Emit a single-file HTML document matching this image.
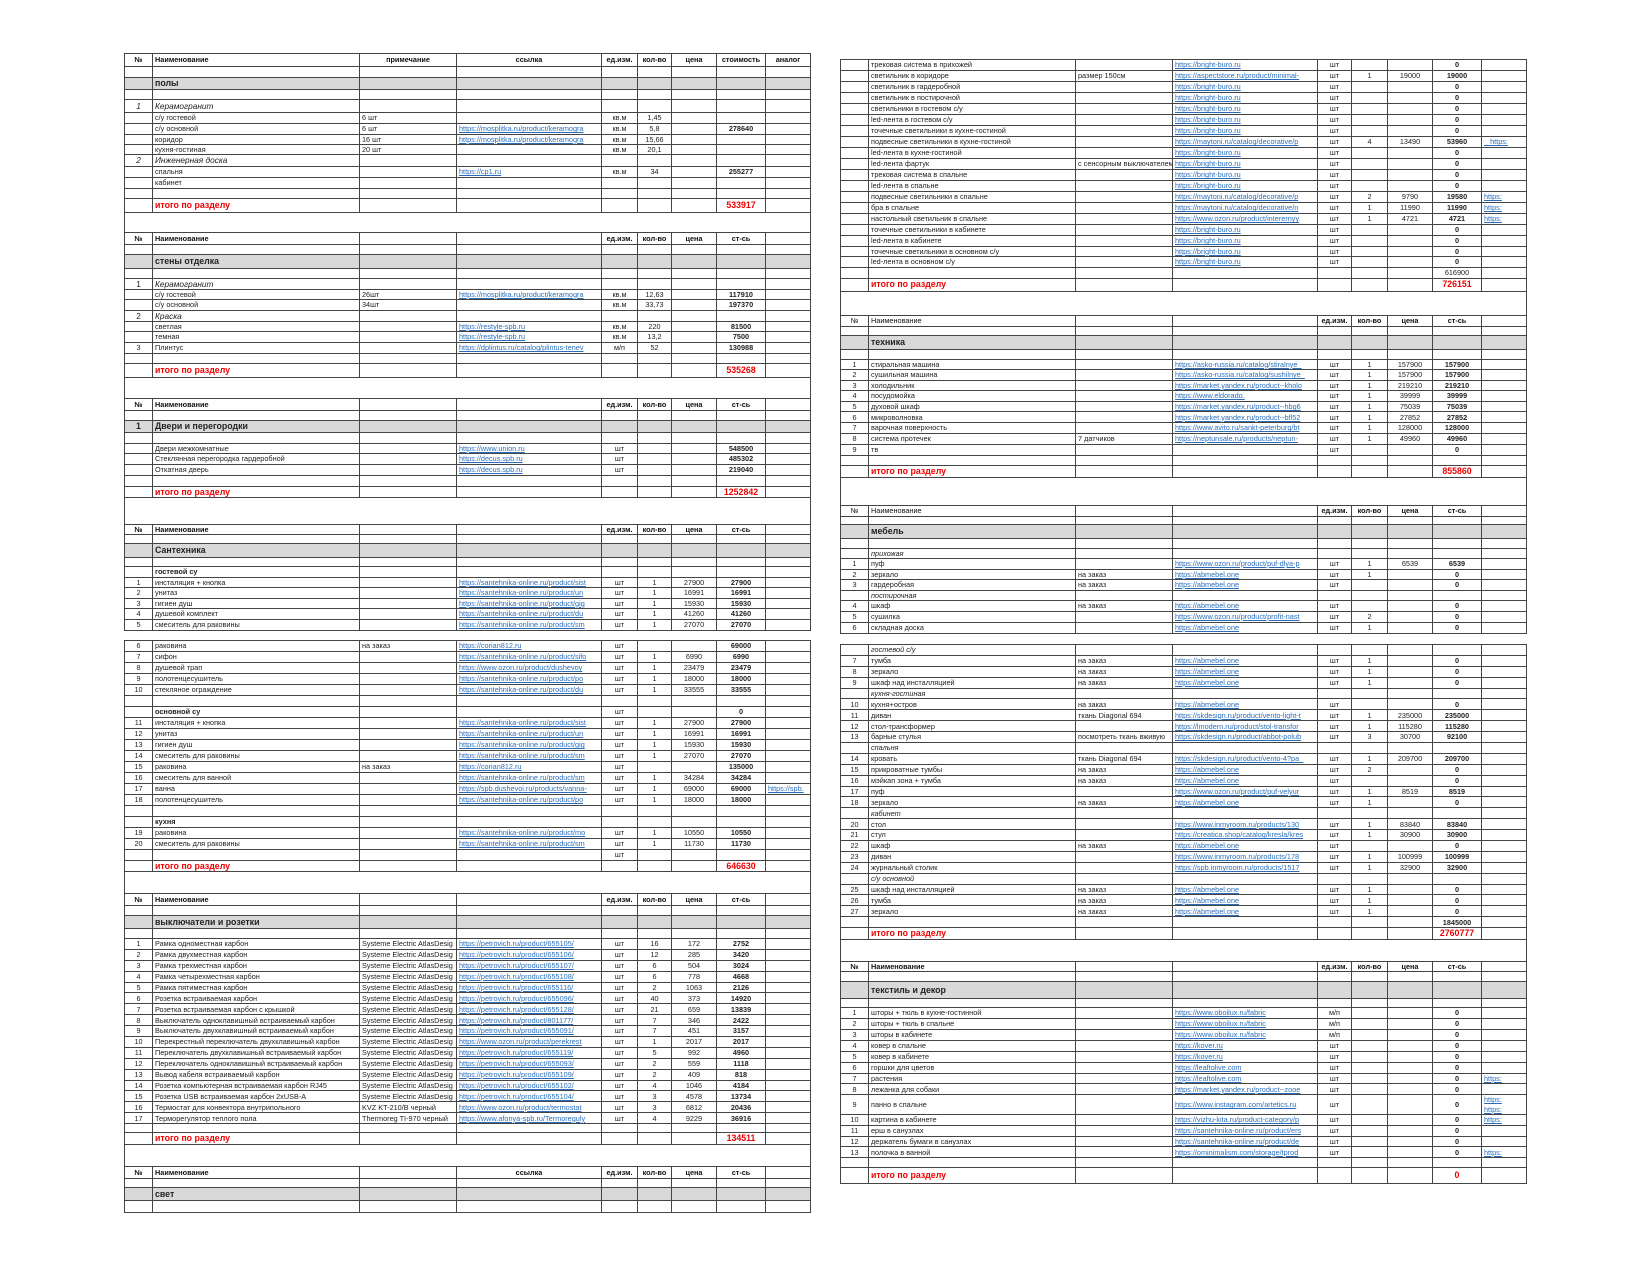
<!DOCTYPE html>
<html><head><meta charset="utf-8">
<style>
html,body{margin:0;padding:0;background:#fff;width:1650px;height:1275px;overflow:hidden;position:relative}
table{position:absolute;border-collapse:collapse;table-layout:fixed;width:686px;font-family:"Liberation Sans",Arial,sans-serif;font-size:7.3px;color:#222}
td{border:1px solid #444;padding:0 2px;white-space:nowrap;overflow:hidden;line-height:1}
td:nth-child(1),td:nth-child(n+5){text-align:center}
td:nth-child(8){font-weight:bold}
td:nth-child(4),td:nth-child(9){color:#2a6ebb;text-decoration:underline;text-align:left}
tr.h td{font-weight:bold;color:#111;text-decoration:none}
tr.h td:nth-child(4),tr.h td:nth-child(9){color:#111;text-decoration:none;text-align:center}
tr.g td{background:#d9d9d9}
tr.g td:nth-child(2){font-weight:bold;font-size:8.8px}
tr.g td:nth-child(1){font-weight:bold;font-size:8.8px}
tr.r td{color:#e00;font-weight:bold;font-size:8.8px}
tr.i td:nth-child(2),tr.i td:nth-child(1){font-style:italic;font-size:8.3px}
tr.sub td:nth-child(2){font-style:italic}
tr.bb td:nth-child(2){font-weight:bold}
tr.gap td{border-top:none;border-bottom:none}
</style></head><body>

<!-- LEFT BLOCK A -->
<table style="left:124px;top:53px">
<colgroup><col style="width:28px"><col style="width:207px"><col style="width:97px"><col style="width:145px"><col style="width:36px"><col style="width:34px"><col style="width:45px"><col style="width:49px"><col style="width:45px"></colgroup>
<tr class="h" style="height:13px"><td>№</td><td>Наименование</td><td style="text-align:center">примечание</td><td>ссылка</td><td>ед.изм.</td><td>кол-во</td><td>цена</td><td>стоимость</td><td>аналог</td></tr>
<tr style="height:11px"><td></td><td></td><td></td><td></td><td></td><td></td><td></td><td></td><td></td></tr>
<tr class="g" style="height:12px"><td></td><td>полы</td><td></td><td></td><td></td><td></td><td></td><td></td><td></td></tr>
<tr style="height:10px"><td></td><td></td><td></td><td></td><td></td><td></td><td></td><td></td><td></td></tr>
<tr class="i" style="height:13px"><td>1</td><td>Керамогранит</td><td></td><td></td><td></td><td></td><td></td><td></td><td></td></tr>
<tr style="height:11px"><td></td><td>с/у гостевой</td><td>6 шт</td><td></td><td>кв.м</td><td>1,45</td><td></td><td></td><td></td></tr>
<tr style="height:11px"><td></td><td>с/у основной</td><td>6 шт</td><td>https://mosplitka.ru/product/keramogra</td><td>кв.м</td><td>5,8</td><td></td><td>278640</td><td></td></tr>
<tr style="height:10px"><td></td><td>коридор</td><td>16 шт</td><td>https://mosplitka.ru/product/keramogra</td><td>кв.м</td><td>15,66</td><td></td><td></td><td></td></tr>
<tr style="height:10px"><td></td><td>кухня-гостиная</td><td>20 шт</td><td></td><td>кв.м</td><td>20,1</td><td></td><td></td><td></td></tr>
<tr class="i" style="height:12px"><td>2</td><td>Инженерная доска</td><td></td><td></td><td></td><td></td><td></td><td></td><td></td></tr>
<tr style="height:11px"><td></td><td>спальня</td><td></td><td>https://cp1.ru</td><td>кв.м</td><td>34</td><td></td><td>255277</td><td></td></tr>
<tr style="height:11px"><td></td><td>кабинет</td><td></td><td></td><td></td><td></td><td></td><td></td><td></td></tr>
<tr style="height:10px"><td></td><td></td><td></td><td></td><td></td><td></td><td></td><td></td><td></td></tr>
<tr class="r" style="height:14px"><td></td><td>итого по разделу</td><td></td><td></td><td></td><td></td><td></td><td>533917</td><td></td></tr>
<tr class="gap" style="height:20px"><td colspan="9"></td></tr>
<tr class="h" style="height:12px"><td>№</td><td>Наименование</td><td></td><td></td><td>ед.изм.</td><td>кол-во</td><td>цена</td><td>ст-сь</td><td></td></tr>
<tr style="height:10px"><td></td><td></td><td></td><td></td><td></td><td></td><td></td><td></td><td></td></tr>
<tr class="g" style="height:14px"><td></td><td>стены отделка</td><td></td><td></td><td></td><td></td><td></td><td></td><td></td></tr>
<tr style="height:10px"><td></td><td></td><td></td><td></td><td></td><td></td><td></td><td></td><td></td></tr>
<tr class="i" style="height:11px"><td style="font-style:normal">1</td><td>Керамогранит</td><td></td><td></td><td></td><td></td><td></td><td></td><td></td></tr>
<tr style="height:10px"><td></td><td>с/у гостевой</td><td>26шт</td><td>https://mosplitka.ru/product/keramogra</td><td>кв.м</td><td>12,63</td><td></td><td>117910</td><td></td></tr>
<tr style="height:11px"><td></td><td>с/у основной</td><td>34шт</td><td></td><td>кв.м</td><td>33,73</td><td></td><td>197370</td><td></td></tr>
<tr class="i" style="height:11px"><td style="font-style:normal">2</td><td>Краска</td><td></td><td></td><td></td><td></td><td></td><td></td><td></td></tr>
<tr style="height:10px"><td></td><td>светлая</td><td></td><td>https://restyle-spb.ru</td><td>кв.м</td><td>220</td><td></td><td>81500</td><td></td></tr>
<tr style="height:11px"><td></td><td>темная</td><td></td><td>https://restyle-spb.ru</td><td>кв.м</td><td>13,2</td><td></td><td>7500</td><td></td></tr>
<tr style="height:11px"><td>3</td><td>Плинтус</td><td></td><td>https://dplintus.ru/catalog/plintus-tenev</td><td>м/п</td><td>52</td><td></td><td>130988</td><td></td></tr>
<tr style="height:10px"><td></td><td></td><td></td><td></td><td></td><td></td><td></td><td></td><td></td></tr>
<tr class="r" style="height:14px"><td></td><td>итого по разделу</td><td></td><td></td><td></td><td></td><td></td><td>535268</td><td></td></tr>
<tr class="gap" style="height:21px"><td colspan="9"></td></tr>
<tr class="h" style="height:12px"><td>№</td><td>Наименование</td><td></td><td></td><td>ед.изм.</td><td>кол-во</td><td>цена</td><td>ст-сь</td><td></td></tr>
<tr style="height:10px"><td></td><td></td><td></td><td></td><td></td><td></td><td></td><td></td><td></td></tr>
<tr class="g" style="height:12px"><td>1</td><td>Двери и перегородки</td><td></td><td></td><td></td><td></td><td></td><td></td><td></td></tr>
<tr style="height:11px"><td></td><td></td><td></td><td></td><td></td><td></td><td></td><td></td><td></td></tr>
<tr style="height:10px"><td></td><td>Двери межкомнатные</td><td></td><td>https://www.union.ru</td><td>шт</td><td></td><td></td><td>548500</td><td></td></tr>
<tr style="height:11px"><td></td><td>Стеклянная перегородка гардеробной</td><td></td><td>https://decus.spb.ru</td><td>шт</td><td></td><td></td><td>485302</td><td></td></tr>
<tr style="height:11px"><td></td><td>Откатная дверь</td><td></td><td>https://decus.spb.ru</td><td>шт</td><td></td><td></td><td>219040</td><td></td></tr>
<tr style="height:11px"><td></td><td></td><td></td><td></td><td></td><td></td><td></td><td></td><td></td></tr>
<tr class="r" style="height:11px"><td></td><td>итого по разделу</td><td></td><td></td><td></td><td></td><td></td><td>1252842</td><td></td></tr>
<tr class="gap" style="height:27px"><td colspan="9"></td></tr>
<tr class="h" style="height:10px"><td>№</td><td>Наименование</td><td></td><td></td><td>ед.изм.</td><td>кол-во</td><td>цена</td><td>ст-сь</td><td></td></tr>
<tr style="height:9px"><td></td><td></td><td></td><td></td><td></td><td></td><td></td><td></td><td></td></tr>
<tr class="g" style="height:14px"><td></td><td>Сантехника</td><td></td><td></td><td></td><td></td><td></td><td></td><td></td></tr>
<tr style="height:9px"><td></td><td></td><td></td><td></td><td></td><td></td><td></td><td></td><td></td></tr>
<tr class="bb" style="height:11px"><td></td><td>гостевой су</td><td></td><td></td><td></td><td></td><td></td><td></td><td></td></tr>
<tr style="height:10px"><td>1</td><td>инсталяция + кнопка</td><td></td><td>https://santehnika-online.ru/product/sist</td><td>шт</td><td>1</td><td>27900</td><td>27900</td><td></td></tr>
<tr style="height:11px"><td>2</td><td>унитаз</td><td></td><td>https://santehnika-online.ru/product/un</td><td>шт</td><td>1</td><td>16991</td><td>16991</td><td></td></tr>
<tr style="height:10px"><td>3</td><td>гигиен душ</td><td></td><td>https://santehnika-online.ru/product/gig</td><td>шт</td><td>1</td><td>15930</td><td>15930</td><td></td></tr>
<tr style="height:11px"><td>4</td><td>душевой комплект</td><td></td><td>https://santehnika-online.ru/product/du</td><td>шт</td><td>1</td><td>41260</td><td>41260</td><td></td></tr>
<tr style="height:11px"><td>5</td><td>смеситель для раковины</td><td></td><td>https://santehnika-online.ru/product/sm</td><td>шт</td><td>1</td><td>27070</td><td>27070</td><td></td></tr>
</table>

<!-- LEFT BLOCK B -->
<table style="left:124px;top:640px">
<colgroup><col style="width:28px"><col style="width:207px"><col style="width:97px"><col style="width:145px"><col style="width:36px"><col style="width:34px"><col style="width:45px"><col style="width:49px"><col style="width:45px"></colgroup>
<tr style="height:11px"><td>6</td><td>раковина</td><td>на заказ</td><td>https://corian812.ru</td><td>шт</td><td></td><td></td><td>69000</td><td></td></tr>
<tr style="height:11px"><td>7</td><td>сифон</td><td></td><td>https://santehnika-online.ru/product/sifo</td><td>шт</td><td>1</td><td>6990</td><td>6990</td><td></td></tr>
<tr style="height:11px"><td>8</td><td>душевой трап</td><td></td><td>https://www.ozon.ru/product/dushevoy</td><td>шт</td><td>1</td><td>23479</td><td>23479</td><td></td></tr>
<tr style="height:11px"><td>9</td><td>полотенцесушитель</td><td></td><td>https://santehnika-online.ru/product/po</td><td>шт</td><td>1</td><td>18000</td><td>18000</td><td></td></tr>
<tr style="height:11px"><td>10</td><td>стекляное ограждение</td><td></td><td>https://santehnika-online.ru/product/du</td><td>шт</td><td>1</td><td>33555</td><td>33555</td><td></td></tr>
<tr style="height:11px"><td></td><td></td><td></td><td></td><td></td><td></td><td></td><td></td><td></td></tr>
<tr class="bb" style="height:11px"><td></td><td>основной су</td><td></td><td></td><td>шт</td><td></td><td></td><td>0</td><td></td></tr>
<tr style="height:11px"><td>11</td><td>инсталяция + кнопка</td><td></td><td>https://santehnika-online.ru/product/sist</td><td>шт</td><td>1</td><td>27900</td><td>27900</td><td></td></tr>
<tr style="height:11px"><td>12</td><td>унитаз</td><td></td><td>https://santehnika-online.ru/product/un</td><td>шт</td><td>1</td><td>16991</td><td>16991</td><td></td></tr>
<tr style="height:11px"><td>13</td><td>гигиен душ</td><td></td><td>https://santehnika-online.ru/product/gig</td><td>шт</td><td>1</td><td>15930</td><td>15930</td><td></td></tr>
<tr style="height:11px"><td>14</td><td>смеситель для раковины</td><td></td><td>https://santehnika-online.ru/product/sm</td><td>шт</td><td>1</td><td>27070</td><td>27070</td><td></td></tr>
<tr style="height:11px"><td>15</td><td>раковина</td><td>на заказ</td><td>https://corian812.ru</td><td>шт</td><td></td><td></td><td>135000</td><td></td></tr>
<tr style="height:11px"><td>16</td><td>смеситель для ванной</td><td></td><td>https://santehnika-online.ru/product/sm</td><td>шт</td><td>1</td><td>34284</td><td>34284</td><td></td></tr>
<tr style="height:11px"><td>17</td><td>ванна</td><td></td><td>https://spb.dushevoi.ru/products/vanna-</td><td>шт</td><td>1</td><td>69000</td><td>69000</td><td>https://spb.</td></tr>
<tr style="height:11px"><td>18</td><td>полотенцесушитель</td><td></td><td>https://santehnika-online.ru/product/po</td><td>шт</td><td>1</td><td>18000</td><td>18000</td><td></td></tr>
<tr style="height:11px"><td></td><td></td><td></td><td></td><td></td><td></td><td></td><td></td><td></td></tr>
<tr class="bb" style="height:11px"><td></td><td>кухня</td><td></td><td></td><td></td><td></td><td></td><td></td><td></td></tr>
<tr style="height:11px"><td>19</td><td>раковина</td><td></td><td>https://santehnika-online.ru/product/mo</td><td>шт</td><td>1</td><td>10550</td><td>10550</td><td></td></tr>
<tr style="height:11px"><td>20</td><td>смеситель для раковины</td><td></td><td>https://santehnika-online.ru/product/sm</td><td>шт</td><td>1</td><td>11730</td><td>11730</td><td></td></tr>
<tr style="height:11px"><td></td><td></td><td></td><td></td><td>шт</td><td></td><td></td><td></td><td></td></tr>
<tr class="r" style="height:11px"><td></td><td>итого по разделу</td><td></td><td></td><td></td><td></td><td></td><td>646630</td><td></td></tr>
<tr class="gap" style="height:22px"><td colspan="9"></td></tr>
<tr class="h" style="height:12px"><td>№</td><td>Наименование</td><td></td><td></td><td>ед.изм.</td><td>кол-во</td><td>цена</td><td>ст-сь</td><td></td></tr>
<tr style="height:10px"><td></td><td></td><td></td><td></td><td></td><td></td><td></td><td></td><td></td></tr>
<tr class="g" style="height:13px"><td></td><td>выключатели и розетки</td><td></td><td></td><td></td><td></td><td></td><td></td><td></td></tr>
<tr style="height:10px"><td></td><td></td><td></td><td></td><td></td><td></td><td></td><td></td><td></td></tr>
<tr style="height:10.9px"><td>1</td><td>Рамка одноместная карбон</td><td>Systeme Electric AtlasDesig</td><td>https://petrovich.ru/product/655105/</td><td>шт</td><td>16</td><td>172</td><td>2752</td><td></td></tr>
<tr style="height:10.9px"><td>2</td><td>Рамка двухместная карбон</td><td>Systeme Electric AtlasDesig</td><td>https://petrovich.ru/product/655106/</td><td>шт</td><td>12</td><td>285</td><td>3420</td><td></td></tr>
<tr style="height:10.9px"><td>3</td><td>Рамка трехместная карбон</td><td>Systeme Electric AtlasDesig</td><td>https://petrovich.ru/product/655107/</td><td>шт</td><td>6</td><td>504</td><td>3024</td><td></td></tr>
<tr style="height:10.9px"><td>4</td><td>Рамка четырехместная карбон</td><td>Systeme Electric AtlasDesig</td><td>https://petrovich.ru/product/655108/</td><td>шт</td><td>6</td><td>778</td><td>4668</td><td></td></tr>
<tr style="height:10.9px"><td>5</td><td>Рамка пятиместная карбон</td><td>Systeme Electric AtlasDesig</td><td>https://petrovich.ru/product/655116/</td><td>шт</td><td>2</td><td>1063</td><td>2126</td><td></td></tr>
<tr style="height:10.9px"><td>6</td><td>Розетка встраиваемая карбон</td><td>Systeme Electric AtlasDesig</td><td>https://petrovich.ru/product/655096/</td><td>шт</td><td>40</td><td>373</td><td>14920</td><td></td></tr>
<tr style="height:10.9px"><td>7</td><td>Розетка встраиваемая карбон с крышкой</td><td>Systeme Electric AtlasDesig</td><td>https://petrovich.ru/product/655128/</td><td>шт</td><td>21</td><td>659</td><td>13839</td><td></td></tr>
<tr style="height:10.9px"><td>8</td><td>Выключатель одноклавишный встраиваемый карбон</td><td>Systeme Electric AtlasDesig</td><td>https://petrovich.ru/product/801177/</td><td>шт</td><td>7</td><td>346</td><td>2422</td><td></td></tr>
<tr style="height:10.9px"><td>9</td><td>Выключатель двухклавишный встраиваемый карбон</td><td>Systeme Electric AtlasDesig</td><td>https://petrovich.ru/product/655091/</td><td>шт</td><td>7</td><td>451</td><td>3157</td><td></td></tr>
<tr style="height:10.9px"><td>10</td><td>Перекрестный переключатель двухклавишный карбон</td><td>Systeme Electric AtlasDesig</td><td>https://www.ozon.ru/product/perekrest</td><td>шт</td><td>1</td><td>2017</td><td>2017</td><td></td></tr>
<tr style="height:10.9px"><td>11</td><td>Переключатель двухклавишный встраиваемый карбон</td><td>Systeme Electric AtlasDesig</td><td>https://petrovich.ru/product/655119/</td><td>шт</td><td>5</td><td>992</td><td>4960</td><td></td></tr>
<tr style="height:10.9px"><td>12</td><td>Переключатель одноклавишный встраиваемый карбон</td><td>Systeme Electric AtlasDesig</td><td>https://petrovich.ru/product/655093/</td><td>шт</td><td>2</td><td>559</td><td>1118</td><td></td></tr>
<tr style="height:10.9px"><td>13</td><td>Вывод кабеля встраиваемый карбон</td><td>Systeme Electric AtlasDesig</td><td>https://petrovich.ru/product/655109/</td><td>шт</td><td>2</td><td>409</td><td>818</td><td></td></tr>
<tr style="height:10.9px"><td>14</td><td>Розетка компьютерная встраиваемая карбон RJ45</td><td>Systeme Electric AtlasDesig</td><td>https://petrovich.ru/product/655102/</td><td>шт</td><td>4</td><td>1046</td><td>4184</td><td></td></tr>
<tr style="height:10.9px"><td>15</td><td>Розетка USB встраиваемая карбон 2xUSB-A</td><td>Systeme Electric AtlasDesig</td><td>https://petrovich.ru/product/655104/</td><td>шт</td><td>3</td><td>4578</td><td>13734</td><td></td></tr>
<tr style="height:10.9px"><td>16</td><td>Термостат для конвектора внутрипольного</td><td>KVZ KT-210/B черный</td><td>https://www.ozon.ru/product/termostat</td><td>шт</td><td>3</td><td>6812</td><td>20436</td><td></td></tr>
<tr style="height:10.9px"><td>17</td><td>Терморегулятор теплого пола</td><td>Thermoreg TI-970 черный</td><td>https://www.afonya-spb.ru/Termoreguly</td><td>шт</td><td>4</td><td>9229</td><td>36916</td><td></td></tr>
<tr style="height:9px"><td></td><td></td><td></td><td></td><td></td><td></td><td></td><td></td><td></td></tr>
<tr class="r" style="height:12px"><td></td><td>итого по разделу</td><td></td><td></td><td></td><td></td><td></td><td>134511</td><td></td></tr>
<tr class="gap" style="height:22px"><td colspan="9"></td></tr>
<tr class="h" style="height:12px"><td>№</td><td>Наименование</td><td></td><td>ссылка</td><td>ед.изм.</td><td>кол-во</td><td>цена</td><td>ст-сь</td><td></td></tr>
<tr style="height:9px"><td></td><td></td><td></td><td></td><td></td><td></td><td></td><td></td><td></td></tr>
<tr class="g" style="height:13px"><td></td><td>свет</td><td></td><td></td><td></td><td></td><td></td><td></td><td></td></tr>
<tr style="height:12px"><td></td><td></td><td></td><td></td><td></td><td></td><td></td><td></td><td></td></tr>
</table>

<!-- RIGHT BLOCK C -->
<table style="left:840px;top:59px">
<colgroup><col style="width:28px"><col style="width:207px"><col style="width:97px"><col style="width:145px"><col style="width:34px"><col style="width:36px"><col style="width:45px"><col style="width:49px"><col style="width:45px"></colgroup>
<tr style="height:11px"><td></td><td>трековая система в прихожей</td><td></td><td>https://bright-buro.ru</td><td>шт</td><td></td><td></td><td>0</td><td></td></tr>
<tr style="height:11px"><td></td><td>светильник в коридоре</td><td>размер 150см</td><td>https://aspectstore.ru/product/minimal-</td><td>шт</td><td>1</td><td>19000</td><td>19000</td><td></td></tr>
<tr style="height:11px"><td></td><td>светильник в гардеробной</td><td></td><td>https://bright-buro.ru</td><td>шт</td><td></td><td></td><td>0</td><td></td></tr>
<tr style="height:11px"><td></td><td>светильник в постирочной</td><td></td><td>https://bright-buro.ru</td><td>шт</td><td></td><td></td><td>0</td><td></td></tr>
<tr style="height:11px"><td></td><td>светильники в гостевом с/у</td><td></td><td>https://bright-buro.ru</td><td>шт</td><td></td><td></td><td>0</td><td></td></tr>
<tr style="height:11px"><td></td><td>led-лента в гостевом с/у</td><td></td><td>https://bright-buro.ru</td><td>шт</td><td></td><td></td><td>0</td><td></td></tr>
<tr style="height:11px"><td></td><td>точечные светильники в кухне-гостиной</td><td></td><td>https://bright-buro.ru</td><td>шт</td><td></td><td></td><td>0</td><td></td></tr>
<tr style="height:11px"><td></td><td>подвесные светильники в кухне-гостиной</td><td></td><td>https://maytoni.ru/catalog/decorative/p</td><td>шт</td><td>4</td><td>13490</td><td>53960</td><td>&nbsp;&nbsp;&nbsp;https:</td></tr>
<tr style="height:11px"><td></td><td>led-лента в кухне-гостиной</td><td></td><td>https://bright-buro.ru</td><td>шт</td><td></td><td></td><td>0</td><td></td></tr>
<tr style="height:11px"><td></td><td>led-лента фартук</td><td>с сенсорным выключателем</td><td>https://bright-buro.ru</td><td>шт</td><td></td><td></td><td>0</td><td></td></tr>
<tr style="height:11px"><td></td><td>трековая система в спальне</td><td></td><td>https://bright-buro.ru</td><td>шт</td><td></td><td></td><td>0</td><td></td></tr>
<tr style="height:11px"><td></td><td>led-лента в спальне</td><td></td><td>https://bright-buro.ru</td><td>шт</td><td></td><td></td><td>0</td><td></td></tr>
<tr style="height:11px"><td></td><td>подвесные светильники в спальне</td><td></td><td>https://maytoni.ru/catalog/decorative/p</td><td>шт</td><td>2</td><td>9790</td><td>19580</td><td>https:</td></tr>
<tr style="height:11px"><td></td><td>бра в спальне</td><td></td><td>https://maytoni.ru/catalog/decorative/n</td><td>шт</td><td>1</td><td>11990</td><td>11990</td><td>https:</td></tr>
<tr style="height:11px"><td></td><td>настольный светильник в спальне</td><td></td><td>https://www.ozon.ru/product/interernyy</td><td>шт</td><td>1</td><td>4721</td><td>4721</td><td>https:</td></tr>
<tr style="height:11px"><td></td><td>точечные светильники в кабинете</td><td></td><td>https://bright-buro.ru</td><td>шт</td><td></td><td></td><td>0</td><td></td></tr>
<tr style="height:10.5px"><td></td><td>led-лента в кабинете</td><td></td><td>https://bright-buro.ru</td><td>шт</td><td></td><td></td><td>0</td><td></td></tr>
<tr style="height:10.5px"><td></td><td>точечные светильники в основном с/у</td><td></td><td>https://bright-buro.ru</td><td>шт</td><td></td><td></td><td>0</td><td></td></tr>
<tr style="height:10.5px"><td></td><td>led-лента в основном с/у</td><td></td><td>https://bright-buro.ru</td><td>шт</td><td></td><td></td><td>0</td><td></td></tr>
<tr style="height:11px"><td></td><td></td><td></td><td></td><td></td><td></td><td></td><td style="font-weight:normal">616900</td><td></td></tr>
<tr class="r" style="height:13px"><td></td><td>итого по разделу</td><td></td><td></td><td></td><td></td><td></td><td>726151</td><td></td></tr>
<tr class="gap" style="height:24px"><td colspan="9"></td></tr>
<tr class="h" style="height:11px"><td style="font-weight:normal">№</td><td style="font-weight:normal">Наименование</td><td></td><td></td><td>ед.изм.</td><td>кол-во</td><td>цена</td><td>ст-сь</td><td></td></tr>
<tr style="height:9px"><td></td><td></td><td></td><td></td><td></td><td></td><td></td><td></td><td></td></tr>
<tr class="g" style="height:14px"><td></td><td>техника</td><td></td><td></td><td></td><td></td><td></td><td></td><td></td></tr>
<tr style="height:10px"><td></td><td></td><td></td><td></td><td></td><td></td><td></td><td></td><td></td></tr>
<tr style="height:10.6px"><td>1</td><td>стиральная машина</td><td></td><td>https://asko-russia.ru/catalog/stiralnye_</td><td>шт</td><td>1</td><td>157900</td><td>157900</td><td></td></tr>
<tr style="height:10.6px"><td>2</td><td>сушильная машина</td><td></td><td>https://asko-russia.ru/catalog/sushilnye_</td><td>шт</td><td>1</td><td>157900</td><td>157900</td><td></td></tr>
<tr style="height:10.6px"><td>3</td><td>холодильник</td><td></td><td>https://market.yandex.ru/product--kholo</td><td>шт</td><td>1</td><td>219210</td><td>219210</td><td></td></tr>
<tr style="height:10.6px"><td>4</td><td>посудомойка</td><td></td><td>https://www.eldorado.</td><td>шт</td><td>1</td><td>39999</td><td>39999</td><td></td></tr>
<tr style="height:10.6px"><td>5</td><td>духовой шкаф</td><td></td><td>https://market.yandex.ru/product--hbg6</td><td>шт</td><td>1</td><td>75039</td><td>75039</td><td></td></tr>
<tr style="height:10.6px"><td>6</td><td>микроволновка</td><td></td><td>https://market.yandex.ru/product--bfl52</td><td>шт</td><td>1</td><td>27852</td><td>27852</td><td></td></tr>
<tr style="height:10.6px"><td>7</td><td>варочная поверхность</td><td></td><td>https://www.avito.ru/sankt-peterburg/bt</td><td>шт</td><td>1</td><td>128000</td><td>128000</td><td></td></tr>
<tr style="height:11px"><td>8</td><td>система протечек</td><td>7 датчиков</td><td>https://neptunsale.ru/products/neptun-</td><td>шт</td><td>1</td><td>49960</td><td>49960</td><td></td></tr>
<tr style="height:11px"><td>9</td><td>тв</td><td></td><td></td><td>шт</td><td></td><td></td><td>0</td><td></td></tr>
<tr style="height:10px"><td></td><td></td><td></td><td></td><td></td><td></td><td></td><td></td><td></td></tr>
<tr class="r" style="height:12px"><td></td><td>итого по разделу</td><td></td><td></td><td></td><td></td><td></td><td>855860</td><td></td></tr>
<tr class="gap" style="height:28px"><td colspan="9"></td></tr>
<tr class="h" style="height:11px"><td style="font-weight:normal">№</td><td style="font-weight:normal">Наименование</td><td></td><td></td><td>ед.изм.</td><td>кол-во</td><td>цена</td><td>ст-сь</td><td></td></tr>
<tr style="height:8px"><td></td><td></td><td></td><td></td><td></td><td></td><td></td><td></td><td></td></tr>
<tr class="g" style="height:14px"><td></td><td>мебель</td><td></td><td></td><td></td><td></td><td></td><td></td><td></td></tr>
<tr style="height:10px"><td></td><td></td><td></td><td></td><td></td><td></td><td></td><td></td><td></td></tr>
<tr class="sub" style="height:10px"><td></td><td>прихожая</td><td></td><td></td><td></td><td></td><td></td><td></td><td></td></tr>
<tr style="height:11px"><td>1</td><td>пуф</td><td></td><td>https://www.ozon.ru/product/puf-dlya-p</td><td>шт</td><td>1</td><td>6539</td><td>6539</td><td></td></tr>
<tr style="height:10px"><td>2</td><td>зеркало</td><td>на заказ</td><td>https://abmebel.one</td><td>шт</td><td>1</td><td></td><td>0</td><td></td></tr>
<tr style="height:11px"><td>3</td><td>гардеробная</td><td>на заказ</td><td>https://abmebel.one</td><td>шт</td><td></td><td></td><td>0</td><td></td></tr>
<tr class="sub" style="height:10px"><td></td><td>постирочная</td><td></td><td></td><td></td><td></td><td></td><td></td><td></td></tr>
<tr style="height:11px"><td>4</td><td>шкаф</td><td>на заказ</td><td>https://abmebel.one</td><td>шт</td><td></td><td></td><td>0</td><td></td></tr>
<tr style="height:11px"><td>5</td><td>сушилка</td><td></td><td>https://www.ozon.ru/product/profit-nast</td><td>шт</td><td>2</td><td></td><td>0</td><td></td></tr>
<tr style="height:11px"><td>6</td><td>складная доска</td><td></td><td>https://abmebel.one</td><td>шт</td><td>1</td><td></td><td>0</td><td></td></tr>
</table>

<!-- RIGHT BLOCK D -->
<table style="left:840px;top:644px">
<colgroup><col style="width:28px"><col style="width:207px"><col style="width:97px"><col style="width:145px"><col style="width:34px"><col style="width:36px"><col style="width:45px"><col style="width:49px"><col style="width:45px"></colgroup>
<tr class="sub" style="height:10.9px"><td></td><td>гостевой с/у</td><td></td><td></td><td></td><td></td><td></td><td></td><td></td></tr>
<tr style="height:10.9px"><td>7</td><td>тумба</td><td>на заказ</td><td>https://abmebel.one</td><td>шт</td><td>1</td><td></td><td>0</td><td></td></tr>
<tr style="height:10.9px"><td>8</td><td>зеркало</td><td>на заказ</td><td>https://abmebel.one</td><td>шт</td><td>1</td><td></td><td>0</td><td></td></tr>
<tr style="height:10.9px"><td>9</td><td>шкаф над инсталляцией</td><td>на заказ</td><td>https://abmebel.one</td><td>шт</td><td>1</td><td></td><td>0</td><td></td></tr>
<tr class="sub" style="height:10.9px"><td></td><td>кухня-гостиная</td><td></td><td></td><td></td><td></td><td></td><td></td><td></td></tr>
<tr style="height:10.9px"><td>10</td><td>кухня+остров</td><td>на заказ</td><td>https://abmebel.one</td><td>шт</td><td></td><td></td><td>0</td><td></td></tr>
<tr style="height:10.9px"><td>11</td><td>диван</td><td>ткань Diagonal 694</td><td>https://skdesign.ru/product/vento-light-t</td><td>шт</td><td>1</td><td>235000</td><td>235000</td><td></td></tr>
<tr style="height:10.9px"><td>12</td><td>стол-трансформер</td><td></td><td>https://lmodern.ru/product/stol-transfor</td><td>шт</td><td>1</td><td>115280</td><td>115280</td><td></td></tr>
<tr style="height:10.9px"><td>13</td><td>барные стулья</td><td>посмотреть ткань вживую</td><td>https://skdesign.ru/product/abbot-polub</td><td>шт</td><td>3</td><td>30700</td><td>92100</td><td></td></tr>
<tr class="sub" style="height:10.9px"><td></td><td>спальня</td><td></td><td></td><td></td><td></td><td></td><td></td><td></td></tr>
<tr style="height:10.9px"><td>14</td><td>кровать</td><td>ткань Diagonal 694</td><td>https://skdesign.ru/product/vento-4?pa_</td><td>шт</td><td>1</td><td>209700</td><td>209700</td><td></td></tr>
<tr style="height:10.9px"><td>15</td><td>прикроватные тумбы</td><td>на заказ</td><td>https://abmebel.one</td><td>шт</td><td>2</td><td></td><td>0</td><td></td></tr>
<tr style="height:10.9px"><td>16</td><td>мэйкап зона + тумба</td><td>на заказ</td><td>https://abmebel.one</td><td>шт</td><td></td><td></td><td>0</td><td></td></tr>
<tr style="height:10.9px"><td>17</td><td>пуф</td><td></td><td>https://www.ozon.ru/product/puf-velyur</td><td>шт</td><td>1</td><td>8519</td><td>8519</td><td></td></tr>
<tr style="height:10.9px"><td>18</td><td>зеркало</td><td>на заказ</td><td>https://abmebel.one</td><td>шт</td><td>1</td><td></td><td>0</td><td></td></tr>
<tr class="sub" style="height:10.9px"><td></td><td>кабинет</td><td></td><td></td><td></td><td></td><td></td><td></td><td></td></tr>
<tr style="height:10.9px"><td>20</td><td>стол</td><td></td><td>https://www.inmyroom.ru/products/130</td><td>шт</td><td>1</td><td>83840</td><td>83840</td><td></td></tr>
<tr style="height:10.9px"><td>21</td><td>стул</td><td></td><td>https://creatica.shop/catalog/kresla/kres</td><td>шт</td><td>1</td><td>30900</td><td>30900</td><td></td></tr>
<tr style="height:10.9px"><td>22</td><td>шкаф</td><td>на заказ</td><td>https://abmebel.one</td><td>шт</td><td></td><td></td><td>0</td><td></td></tr>
<tr style="height:10.9px"><td>23</td><td>диван</td><td></td><td>https://www.inmyroom.ru/products/178</td><td>шт</td><td>1</td><td>100999</td><td>100999</td><td></td></tr>
<tr style="height:10.9px"><td>24</td><td>журнальный столик</td><td></td><td>https://spb.inmyroom.ru/products/1517</td><td>шт</td><td>1</td><td>32900</td><td>32900</td><td></td></tr>
<tr class="sub" style="height:10.9px"><td></td><td>с/у основной</td><td></td><td></td><td></td><td></td><td></td><td></td><td></td></tr>
<tr style="height:10.9px"><td>25</td><td>шкаф над инсталляцией</td><td>на заказ</td><td>https://abmebel.one</td><td>шт</td><td>1</td><td></td><td>0</td><td></td></tr>
<tr style="height:10.9px"><td>26</td><td>тумба</td><td>на заказ</td><td>https://abmebel.one</td><td>шт</td><td>1</td><td></td><td>0</td><td></td></tr>
<tr style="height:10.9px"><td>27</td><td>зеркало</td><td>на заказ</td><td>https://abmebel.one</td><td>шт</td><td>1</td><td></td><td>0</td><td></td></tr>
<tr style="height:10.9px"><td></td><td></td><td></td><td></td><td></td><td></td><td></td><td>1845000</td><td></td></tr>
<tr class="r" style="height:12px"><td></td><td>итого по разделу</td><td></td><td></td><td></td><td></td><td></td><td>2760777</td><td></td></tr>
<tr class="gap" style="height:22px"><td colspan="9"></td></tr>
<tr class="h" style="height:10px"><td>№</td><td>Наименование</td><td></td><td></td><td>ед.изм.</td><td>кол-во</td><td>цена</td><td>ст-сь</td><td></td></tr>
<tr style="height:10px"><td></td><td></td><td></td><td></td><td></td><td></td><td></td><td></td><td></td></tr>
<tr class="g" style="height:17px"><td></td><td>текстиль и декор</td><td></td><td></td><td></td><td></td><td></td><td></td><td></td></tr>
<tr style="height:9px"><td></td><td></td><td></td><td></td><td></td><td></td><td></td><td></td><td></td></tr>
<tr style="height:10.9px"><td>1</td><td>шторы + тюль в кухне-гостинной</td><td></td><td>https://www.oboilux.ru/fabric</td><td>м/п</td><td></td><td></td><td>0</td><td></td></tr>
<tr style="height:10.9px"><td>2</td><td>шторы + тюль в спальне</td><td></td><td>https://www.oboilux.ru/fabric</td><td>м/п</td><td></td><td></td><td>0</td><td></td></tr>
<tr style="height:10.9px"><td>3</td><td>шторы в кабинете</td><td></td><td>https://www.oboilux.ru/fabric</td><td>м/п</td><td></td><td></td><td>0</td><td></td></tr>
<tr style="height:10.9px"><td>4</td><td>ковер в спальне</td><td></td><td>https://kover.ru</td><td>шт</td><td></td><td></td><td>0</td><td></td></tr>
<tr style="height:10.9px"><td>5</td><td>ковер в кабинете</td><td></td><td>https://kover.ru</td><td>шт</td><td></td><td></td><td>0</td><td></td></tr>
<tr style="height:10.9px"><td>6</td><td>горшки для цветов</td><td></td><td>https://leaftolive.com</td><td>шт</td><td></td><td></td><td>0</td><td></td></tr>
<tr style="height:10.9px"><td>7</td><td>растения</td><td></td><td>https://leaftolive.com</td><td>шт</td><td></td><td></td><td>0</td><td>https:</td></tr>
<tr style="height:10.9px"><td>8</td><td>лежанка для собаки</td><td></td><td>https://market.yandex.ru/product--zooe</td><td>шт</td><td></td><td></td><td>0</td><td></td></tr>
<tr style="height:20px"><td>9</td><td>панно в спальне</td><td></td><td>https://www.instagram.com/artetics.ru</td><td>шт</td><td></td><td></td><td>0</td><td style="line-height:1.3">https:<br>https:</td></tr>
<tr style="height:10.7px"><td>10</td><td>картина в кабинете</td><td></td><td>https://vizhu-kita.ru/product-category/p</td><td>шт</td><td></td><td></td><td>0</td><td>https:</td></tr>
<tr style="height:10.7px"><td>11</td><td>ерш в санузлах</td><td></td><td>https://santehnika-online.ru/product/ers</td><td>шт</td><td></td><td></td><td>0</td><td></td></tr>
<tr style="height:10.7px"><td>12</td><td>держатель бумаги в санузлах</td><td></td><td>https://santehnika-online.ru/product/de</td><td>шт</td><td></td><td></td><td>0</td><td></td></tr>
<tr style="height:10.7px"><td>13</td><td>полочка в ванной</td><td></td><td>https://ominimalism.com/storage/tprod</td><td>шт</td><td></td><td></td><td>0</td><td>https:</td></tr>
<tr style="height:10px"><td></td><td></td><td></td><td></td><td></td><td></td><td></td><td></td><td></td></tr>
<tr class="r" style="height:16px"><td></td><td>итого по разделу</td><td></td><td></td><td></td><td></td><td></td><td>0</td><td></td></tr>
</table>

</body></html>
